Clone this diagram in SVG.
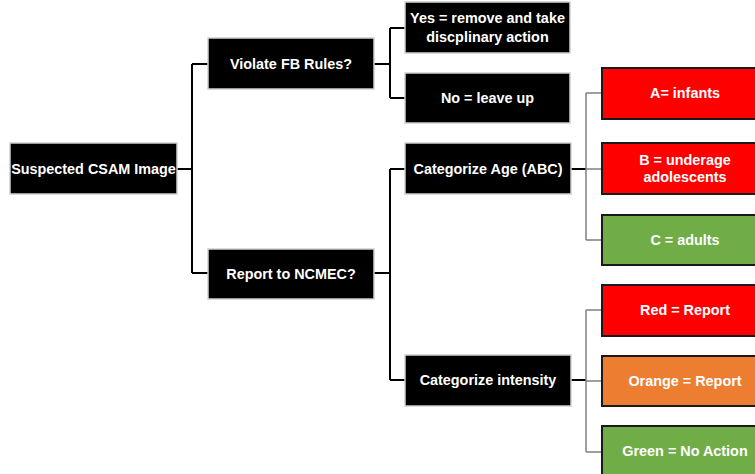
<svg xmlns="http://www.w3.org/2000/svg" width="755" height="474" viewBox="0 0 755 474">
<style>
.bk{fill:#000;stroke:#cfcfcf;stroke-width:1.5}
.red{fill:#ff0000;stroke:#1a1a1a;stroke-width:2}
.org{fill:#ed7d31;stroke:#1a1a1a;stroke-width:2}
.grn{fill:#70ad47;stroke:#1a1a1a;stroke-width:2}
text{font-family:"Liberation Sans",Arial,sans-serif;font-weight:bold;font-size:14.4px;fill:#fff;text-anchor:middle;dominant-baseline:central}
.c1{fill:none;stroke:#000;stroke-width:2}
.c2{fill:none;stroke:#808080;stroke-width:1.5}
</style>
<rect width="755" height="474" fill="#fff"/>
<g id="connectors">
<path class="c1" d="M177 169H192M192 64V273M192 64H208M192 273H208"/>
<path class="c1" d="M374 64H390M390 28V98M390 28H405M390 98H405"/>
<path class="c1" d="M374 273H390M390 169V380M390 169H405M390 380H405"/>
<path class="c1" d="M571 169H586M571 380H586"/>
<path class="c2" d="M586 93V240M586 93H602M586 169H602M586 240H602"/>
<path class="c2" d="M586 310V452M586 310H602M586 381H602M586 452H602"/>
</g>
<g id="n-csam"><rect class="bk" x="10" y="143" width="167" height="51"/><text x="93.5" y="169">Suspected CSAM Image</text></g>
<g id="n-violate"><rect class="bk" x="208" y="38" width="166" height="51"/><text x="291" y="64">Violate FB Rules?</text></g>
<g id="n-yes"><rect class="bk" x="405" y="2" width="165" height="51"/><text x="487.5" y="18">Yes = remove and take</text><text x="487.5" y="37">discplinary action</text></g>
<g id="n-no"><rect class="bk" x="405" y="73" width="165" height="50"/><text x="487.5" y="98">No = leave up</text></g>
<g id="n-report"><rect class="bk" x="208" y="249" width="166" height="50"/><text x="291" y="274">Report to NCMEC?</text></g>
<g id="n-age"><rect class="bk" x="405" y="143" width="166" height="51"/><text x="488" y="169">Categorize Age (ABC)</text></g>
<g id="n-intensity"><rect class="bk" x="405" y="355" width="166" height="51"/><text x="488" y="380">Categorize intensity</text></g>
<g id="n-a"><rect class="red" x="602" y="68" width="166" height="51"/><text x="685" y="93">A= infants</text></g>
<g id="n-b"><rect class="red" x="602" y="143" width="166" height="51"/><text x="685" y="160">B = underage</text><text x="685" y="177">adolescents</text></g>
<g id="n-c"><rect class="grn" x="602" y="215" width="166" height="50"/><text x="685" y="240">C = adults</text></g>
<g id="n-red"><rect class="red" x="602" y="285" width="166" height="51"/><text x="685" y="310">Red = Report</text></g>
<g id="n-orange"><rect class="org" x="602" y="356" width="166" height="50"/><text x="685" y="381">Orange = Report</text></g>
<g id="n-green"><rect class="grn" x="602" y="426" width="166" height="51"/><text x="685" y="451">Green = No Action</text></g>
</svg>
